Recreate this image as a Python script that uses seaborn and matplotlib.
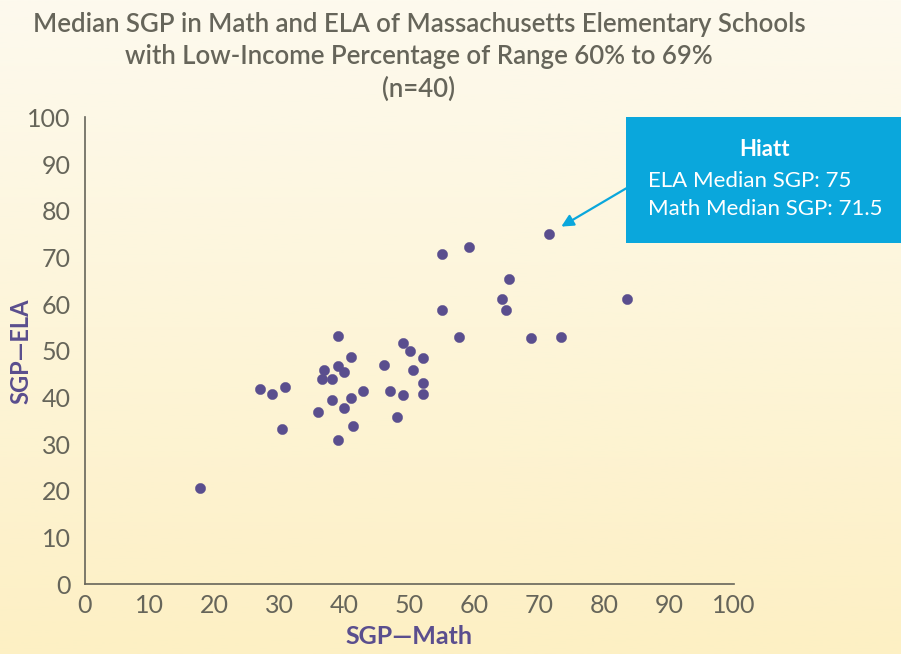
import numpy as np
import pandas as pd
import matplotlib.pyplot as plt
import seaborn as sns
from matplotlib.patches import Rectangle

# Median SGP values (n=40)
math_sgp = [55.1, 55.1, 57.6, 39.0, 49.0, 50.1, 52.1, 41.0, 46.1, 36.9,
            39.0, 40.0, 50.6, 36.5, 38.1, 52.1, 27.0, 28.9, 30.9, 42.9,
            47.1, 49.0, 52.1, 38.1, 41.0, 39.9, 36.0, 48.1, 30.4, 41.4,
            39.0, 71.5, 59.2, 65.3, 64.2, 64.9, 83.5, 68.7, 73.3, 17.8]
ela_sgp = [70.7, 58.8, 53.0, 53.1, 51.7, 50.0, 48.5, 48.6, 47.0, 45.9,
           46.7, 45.5, 45.9, 43.9, 44.0, 43.1, 41.8, 40.8, 42.3, 41.3,
           41.4, 40.5, 40.8, 39.5, 40.0, 37.8, 36.8, 35.9, 33.3, 33.8,
           30.8, 75.0, 72.2, 65.3, 61.1, 58.7, 61.1, 52.7, 53.0, 20.6]
ticks = list(range(0, 101, 10))

df = pd.DataFrame({'Math': math_sgp, 'ELA': ela_sgp})

sns.set_style('white')
plt.rcParams['font.family'] = ['Lato', 'DejaVu Sans']

gray = '#66655a'
purple = '#5a4e8e'

fig = plt.figure(figsize=(9.01, 6.54), dpi=100)

# cream-to-yellow background
bg = fig.add_axes([0, 0, 1, 1], zorder=0)
grad = np.linspace(0, 1, 256).reshape(-1, 1)
top = np.array([253, 250, 238]) / 255
bot = np.array([253, 240, 196]) / 255
img = top + (bot - top) * grad[:, :, None]
bg.imshow(img, aspect='auto', extent=[0, 1, 0, 1])
bg.axis('off')

ax = fig.add_axes([0.0939, 0.1066, 0.7208, 0.714], zorder=1)
ax.patch.set_alpha(0)
sns.scatterplot(data=df, x='Math', y='ELA', ax=ax, color=purple,
                s=55, edgecolor=purple, linewidth=0.3, zorder=3)

ax.set_xlim(0, 100)
ax.set_ylim(0, 100)
ax.set_xticks(ticks)
ax.set_yticks(ticks)
ax.tick_params(direction='in', length=7, width=1, color=gray,
               labelcolor=gray, labelsize=18, pad=7)
ax.tick_params(axis='y', pad=10)
for side in ['top', 'right']:
    ax.spines[side].set_visible(False)
for side in ['left', 'bottom']:
    ax.spines[side].set_color(gray)
    ax.spines[side].set_linewidth(1.2)

ax.set_xlabel('SGP—Math', color=purple, fontsize=18, fontweight='bold', labelpad=6)
ax.set_ylabel('SGP—ELA', color=purple, fontsize=17, fontweight='bold')
ax.yaxis.set_label_coords(-0.08, 0.5)

fig.text(0.465, 0.982, 'Median SGP in Math and ELA of Massachusetts Elementary Schools\n'
         'with Low-Income Percentage of Range 60% to 69%\n(n=40)',
         ha='center', va='top', fontsize=18.5, color=gray, linespacing=1.38,
         fontweight='semibold')

# Hiatt callout
fig.patches.append(Rectangle((0.695, 0.628), 0.31, 0.193, transform=fig.transFigure,
                             facecolor='#0aa7dc', edgecolor='none', zorder=2))
fig.text(0.849, 0.772, 'Hiatt', ha='center', va='center', color='white',
         fontsize=16, fontweight='bold', zorder=4)
fig.text(0.719, 0.724, 'ELA Median SGP: 75', ha='left', va='center',
         color='white', fontsize=16, zorder=4)
fig.text(0.719, 0.681, 'Math Median SGP: 71.5', ha='left', va='center',
         color='white', fontsize=16, zorder=4)
ax.annotate('', xy=(73.4, 76.6), xytext=(83.4, 84.8),
            arrowprops=dict(arrowstyle='-|>', color='#0aa7dc', lw=1.6,
                            mutation_scale=18, shrinkA=0, shrinkB=0),
            annotation_clip=False)

fig.savefig('out.png', dpi=100)
